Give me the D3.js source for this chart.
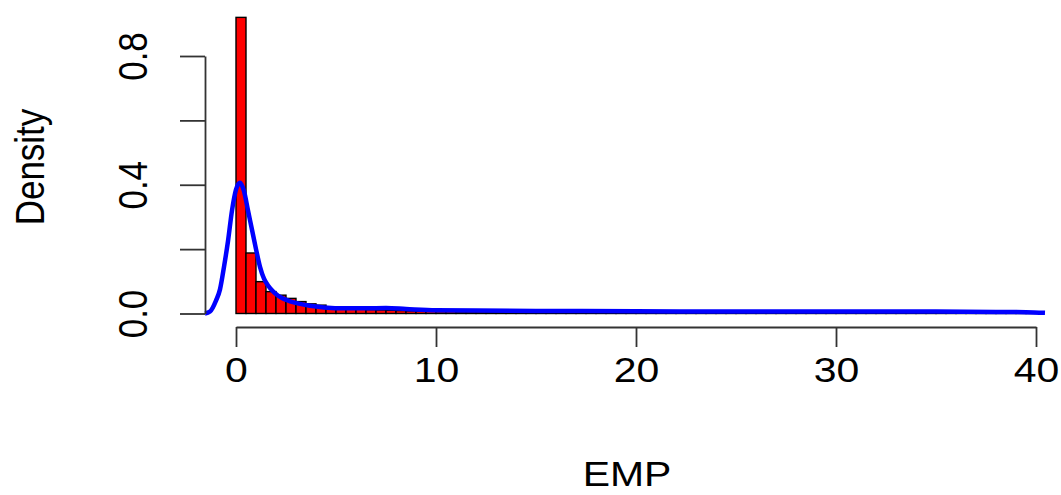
<!DOCTYPE html>
<html>
<head>
<meta charset="utf-8">
<script src="https://cdn.jsdelivr.net/npm/d3@7"></script>
<style>
  body { margin: 0; background: #fff; }
  svg { display: block; }
  text { font-family: "Liberation Sans", Arial, sans-serif; fill: #000; }
</style>
</head>
<body>
<div id="graph"></div>
<script>
// histogram breaks (width 0.5) and density per bin
var binStart = d3.range(0, 40, 0.5);
var binDensity = [
  0.920, 0.188, 0.099, 0.068, 0.057, 0.047, 0.037, 0.030, 0.026, 0.021,
  0.017, 0.015, 0.013, 0.012, 0.011, 0.010, 0.009, 0.008, 0.007, 0.007,
  0.006, 0.006, 0.005, 0.005, 0.005, 0.004, 0.004, 0.004, 0.004, 0.003,
  0.003, 0.003, 0.003, 0.003, 0.003, 0.002, 0.002, 0.002, 0.002, 0.002,
  0.002, 0.002, 0.002, 0.002, 0.002, 0.002, 0.002, 0.002, 0.002, 0.002,
  0.001, 0.001, 0.001, 0.001, 0.001, 0.001, 0.001, 0.001, 0.001, 0.001,
  0.001, 0.001, 0.001, 0.001, 0.001, 0.001, 0.001, 0.001, 0.001, 0.001,
  0.001, 0.001, 0.001, 0.001, 0.001, 0.001, 0.001, 0.001, 0.001, 0.001
];

// kernel density curve
var densX = [-1.55, -1.3, -1.0, -0.8, -0.6, -0.4, -0.2, 0.0, 0.2, 0.4, 0.6, 0.8, 1.0, 1.2, 1.4, 1.6,
  1.9, 2.3, 2.7, 3.2, 3.7, 4.4, 5.5, 6.5, 7.5, 8.5, 10, 12, 15, 20, 25, 30, 35, 38, 39.5, 40.45];
var densY = [0.0, 0.006, 0.04, 0.075, 0.145, 0.225, 0.32, 0.385, 0.406, 0.38, 0.32, 0.26, 0.20, 0.145, 0.108, 0.087,
  0.066, 0.048, 0.038, 0.030, 0.024, 0.019, 0.016, 0.016, 0.017, 0.014, 0.010, 0.009, 0.008, 0.007, 0.006, 0.006, 0.006, 0.005, 0.004, 0.002];

var xTicks = [0, 10, 20, 30, 40];
var yTicks = [0, 0.2, 0.4, 0.6, 0.8];
var yLabels = ['0.0', '', '0.4', '', '0.8'];

var width = 1061, height = 495;
var stretch = 1.17; // text is wider than tall in the reference

var x = d3.scaleLinear().domain([0, 40]).range([236, 1036]);
var y = d3.scaleLinear().domain([0, 0.8]).range([313.5, 56]);

var svg = d3.select('#graph').append('svg')
  .attr('width', width)
  .attr('height', height);

// bars
svg.selectAll('rect.bar')
  .data(binDensity)
  .enter().append('rect')
    .attr('class', 'bar')
    .attr('x', function(d, i) { return x(binStart[i]); })
    .attr('width', function(d, i) { return x(binStart[i] + 0.5) - x(binStart[i]); })
    .attr('y', function(d) { return y(d); })
    .attr('height', function(d) { return y(0) - y(d); })
    .attr('fill', '#ff0000')
    .attr('stroke', '#000')
    .attr('stroke-width', 1.4);

// density line
var pts = densX.map(function(v, i) { return [v, densY[i]]; });
var line = d3.line()
  .x(function(d) { return x(d[0]); })
  .y(function(d) { return y(d[1]); })
  .curve(d3.curveMonotoneX);

svg.append('path')
  .datum(pts)
  .attr('d', line)
  .attr('fill', 'none')
  .attr('stroke', '#0000ff')
  .attr('stroke-width', 4.5)
  .attr('stroke-linejoin', 'round');

// x axis
var gx = svg.append('g')
  .attr('transform', 'translate(0,327)')
  .call(d3.axisBottom(x).tickValues(xTicks).tickSize(20).tickSizeOuter(0).tickPadding(10));
gx.selectAll('text')
  .style('font-size', '35px')
  .attr('transform', 'scale(' + stretch + ',1)');

// y axis
var gy = svg.append('g')
  .attr('transform', 'translate(205,0)')
  .call(d3.axisLeft(y).tickValues(yTicks).tickSize(25).tickSizeOuter(0)
    .tickFormat(function(d, i) { return yLabels[i]; }));
gy.selectAll('text')
  .style('font-size', '35px')
  .attr('x', null).attr('dy', null)
  .attr('text-anchor', 'middle')
  .attr('transform', 'translate(-58,0) scale(' + stretch + ',1) rotate(-90)');

svg.selectAll('.domain, .tick line')
  .attr('stroke', '#333')
  .attr('stroke-width', 1.8);

// axis titles
svg.append('text')
  .attr('transform', 'translate(627,486) scale(' + stretch + ',1)')
  .attr('text-anchor', 'middle')
  .style('font-size', '35px')
  .text('EMP');

svg.append('text')
  .attr('transform', 'translate(44,167) scale(' + stretch + ',1) rotate(-90)')
  .attr('text-anchor', 'middle')
  .style('font-size', '35px')
  .text('Density');
</script>
</body>
</html>
